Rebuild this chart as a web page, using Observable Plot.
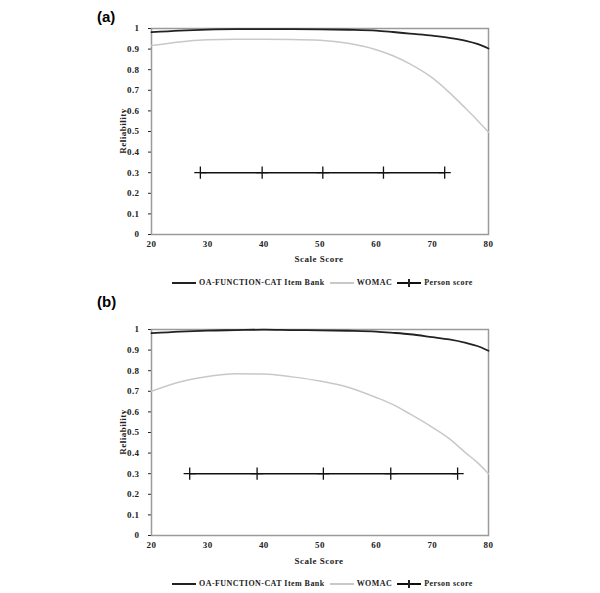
<!DOCTYPE html>
<html><head><meta charset="utf-8">
<script src="https://cdn.jsdelivr.net/npm/d3@7"></script>
<script src="https://cdn.jsdelivr.net/npm/@observablehq/plot@0.6"></script>
<style>
body{margin:0;background:#fff;width:600px;height:593px;position:relative;overflow:hidden;}
.abs{position:absolute;}
.plabel{font-family:"Liberation Sans",Arial,sans-serif;font-weight:bold;font-size:15px;}
.t{font-family:"Liberation Serif","Times New Roman",serif;font-weight:bold;font-size:9px;letter-spacing:0.5px;color:#222;white-space:nowrap;line-height:10px;}
.lg{font-size:8px;letter-spacing:0.45px;}
.legend{display:flex;align-items:center;}
.sw{display:inline-block;width:24px;height:0;border-top:2px solid #222;margin-right:3px;position:relative;}
.sw.tick::after{content:"";position:absolute;left:11px;top:-5px;width:1.5px;height:8px;background:#222;}
</style></head><body>
<script>
// ---- data ----
const xTicks = [20, 30, 40, 50, 60, 70, 80];
const yTicks = [0, 0.1, 0.2, 0.3, 0.4, 0.5, 0.6, 0.7, 0.8, 0.9, 1];
const seriesNames = ["OA-FUNCTION-CAT Item Bank", "WOMAC", "Person score"];

// Panel (a)
const aScore = [20, 25, 30, 35, 40, 45, 50, 55, 60, 63, 66, 70, 73, 76, 78, 80];
const aOA    = [0.982, 0.99, 0.995, 0.997, 0.997, 0.997, 0.996, 0.994, 0.99, 0.983, 0.975, 0.965, 0.955, 0.94, 0.925, 0.903];
const aWOMAC = [0.917, 0.935, 0.945, 0.948, 0.948, 0.947, 0.943, 0.928, 0.897, 0.868, 0.828, 0.76, 0.69, 0.61, 0.555, 0.497];
const aPerson = [28.7, 39.7, 50.5, 61.3, 72.2];

// Panel (b)
const bScore = [20, 25, 30, 35, 40, 45, 50, 55, 60, 63, 66, 70, 73, 76, 78, 80];
const bOA    = [0.982, 0.99, 0.995, 0.997, 0.999, 0.997, 0.996, 0.994, 0.99, 0.984, 0.977, 0.963, 0.952, 0.935, 0.92, 0.897];
const bWOMAC = [0.70, 0.745, 0.772, 0.785, 0.784, 0.77, 0.75, 0.72, 0.67, 0.635, 0.59, 0.525, 0.47, 0.40, 0.355, 0.30];
const bPerson = [26.8, 38.8, 50.6, 62.6, 74.5];
const personLevel = 0.3;

const oaColor = "#222222", womacColor = "#c8c8c8", personColor = "#111111";

function panel(score, oa, womac, person, height) {
  const oaData = score.map((s, i) => ({x: s, y: oa[i]}));
  const wData = score.map((s, i) => ({x: s, y: womac[i]}));
  const pData = person.map(s => ({x: s, y: personLevel}));
  return Plot.plot({
    width: 600, height,
    marginLeft: 151, marginRight: 112, marginTop: 8, marginBottom: height - 214,
    style: {fontFamily: "'Liberation Serif','Times New Roman',serif", fontWeight: "bold", fontSize: "9px", letterSpacing: "0.4px", color: "#222", background: "transparent"},
    x: {domain: [20, 80], ticks: xTicks, tickSize: 0, tickPadding: 6, label: null, tickFormat: d => String(d)},
    y: {domain: [0, 1], ticks: yTicks, tickSize: 3, tickPadding: 9, label: null, tickFormat: d => String(d)},
    marks: [
      Plot.frame({stroke: "#9a9a9a", strokeWidth: 1.5}),
      Plot.line(wData, {x: "x", y: "y", stroke: womacColor, strokeWidth: 1.5, curve: "monotone-x"}),
      Plot.line(oaData, {x: "x", y: "y", stroke: oaColor, strokeWidth: 1.8, curve: "monotone-x"}),
      Plot.line(pData, {x: "x", y: "y", stroke: personColor, strokeWidth: 1.5}),
      Plot.dot(pData, {x: "x", y: "y", symbol: "plus", r: 4, stroke: personColor, strokeWidth: 1.3})
    ]
  });
}

function place(el, left, top) {
  el.classList.add("abs");
  el.style.left = left + "px";
  el.style.top = top + "px";
  document.body.appendChild(el);
  return el;
}
function div(cls, text) {
  const d = document.createElement("div");
  d.className = cls;
  if (text != null) d.textContent = text;
  return d;
}
function legend(top) {
  const lg = div("t lg legend");
  const items = [["sw", seriesNames[0], oaColor], ["sw", seriesNames[1], womacColor], ["sw tick", seriesNames[2], personColor]];
  items.forEach(([cls, name, col], i) => {
    const s = document.createElement("span");
    s.className = cls;
    s.style.borderTopColor = col;
    s.style.marginLeft = i ? "5px" : "0";
    lg.appendChild(s);
    const t = document.createElement("span");
    t.textContent = name;
    lg.appendChild(t);
  });
  place(lg, 172, top);
}
function yTitle(centerY) {
  const d = div("t", "Reliability");
  place(d, 123, centerY);
  d.style.transform = "translate(-50%,-50%) rotate(-90deg)";
}
function xTitle(centerY) {
  const d = div("t", "Scale Score");
  place(d, 319, centerY);
  d.style.transform = "translate(-50%,-50%)";
}

// Panel (a)
place(div("plabel", "(a)"), 97, 8);
place(panel(aScore, aOA, aWOMAC, aPerson, 252), 0, 20);
yTitle(131); xTitle(259); legend(278);

// Panel (b)
place(div("plabel", "(b)"), 97, 293);
place(panel(bScore, bOA, bWOMAC, bPerson, 253), 0, 321);
yTitle(432); xTitle(561); legend(579);
</script>
</body></html>
